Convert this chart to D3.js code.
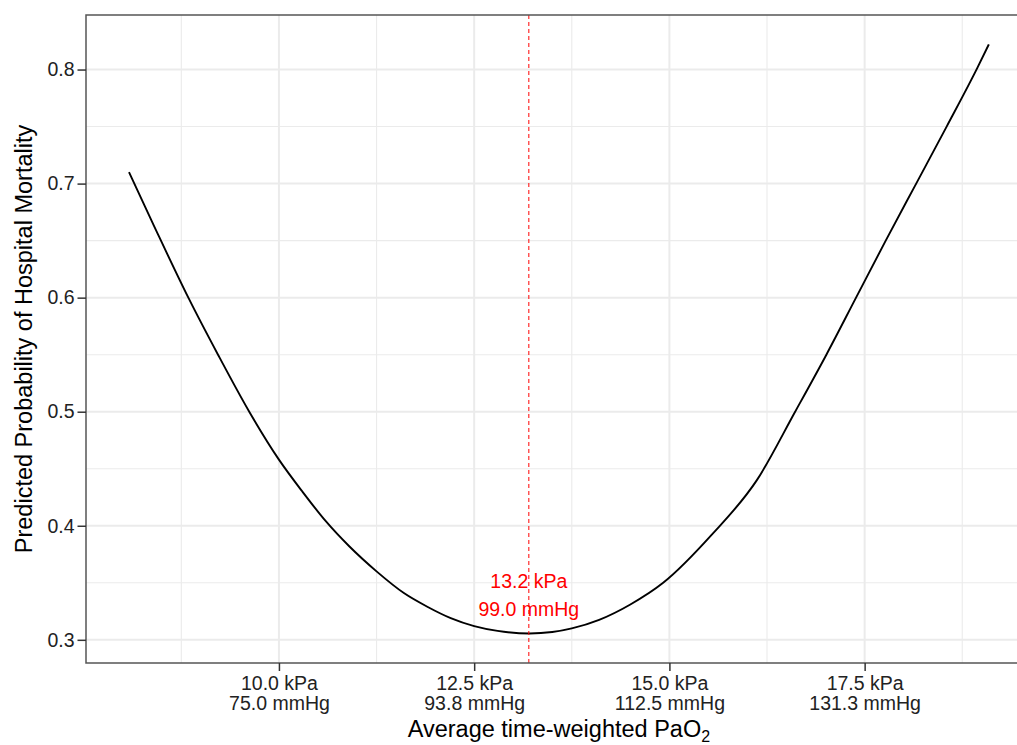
<!DOCTYPE html>
<html>
<head>
<meta charset="utf-8">
<script src="https://cdn.jsdelivr.net/npm/d3@7"></script>
<style>
  html, body { margin: 0; padding: 0; background: #fff; }
  svg { display: block; font-family: "Liberation Sans", Arial, sans-serif; }
</style>
</head>
<body>
<svg id="chart" width="1017" height="745"></svg>
<script>
// ---- data ----
const pao2Kpa = [8.08, 8.40, 8.84, 9.22, 9.62, 10.00, 10.30, 10.60, 10.90, 11.25, 11.60, 11.90, 12.20, 12.50, 12.80, 13.21, 13.50, 13.75, 14.10, 14.50, 14.92, 15.54, 16.12, 16.61, 17.01, 17.39, 17.77, 18.16, 18.55, 18.94, 19.09];
const mortality = [0.710, 0.663, 0.600, 0.550, 0.500, 0.458, 0.430, 0.404, 0.382, 0.360, 0.341, 0.329, 0.319, 0.312, 0.3078, 0.3055, 0.3068, 0.310, 0.3175, 0.331, 0.350, 0.392, 0.440, 0.500, 0.550, 0.600, 0.650, 0.700, 0.750, 0.801, 0.822];

const xTickValues = [10, 12.5, 15, 17.5];
const xTickKpa = ["10.0 kPa", "12.5 kPa", "15.0 kPa", "17.5 kPa"];
const xTickMmHg = ["75.0 mmHg", "93.8 mmHg", "112.5 mmHg", "131.3 mmHg"];
const xMinorValues = [8.75, 11.25, 13.75, 16.25, 18.75];
const yTickValues = [0.3, 0.4, 0.5, 0.6, 0.7, 0.8];
const yMinorValues = [0.35, 0.45, 0.55, 0.65, 0.75];

const optimumKpa = 13.2;
const optimumLabels = ["13.2 kPa", "99.0 mmHg"];
const optimumLabelY = [0.3515, 0.327];

const xTitle = "Average time-weighted PaO";
const yTitle = "Predicted Probability of Hospital Mortality";

// ---- layout ----
const panel = { left: 86, top: 15, right: 1031.8, bottom: 663 };

function expand(ext, f) {
  const d = ext[1] - ext[0];
  return [ext[0] - d * f, ext[1] + d * f];
}

const x = d3.scaleLinear()
  .domain(expand(d3.extent(pao2Kpa), 0.05))
  .range([panel.left, panel.right]);
const y = d3.scaleLinear()
  .domain(expand(d3.extent(mortality), 0.05))
  .range([panel.bottom, panel.top]);

const svg = d3.select("#chart");
const data = pao2Kpa.map((k, i) => ({ k, p: mortality[i] }));

svg.append("defs").append("clipPath").attr("id", "clip")
  .append("rect")
  .attr("x", panel.left).attr("y", panel.top)
  .attr("width", panel.right - panel.left).attr("height", panel.bottom - panel.top);

svg.append("rect")
  .attr("x", panel.left).attr("y", panel.top)
  .attr("width", panel.right - panel.left).attr("height", panel.bottom - panel.top)
  .attr("fill", "#fff");

const grid = svg.append("g").attr("clip-path", "url(#clip)");
grid.selectAll(".xminor").data(xMinorValues).join("line")
  .attr("x1", d => x(d)).attr("x2", d => x(d))
  .attr("y1", panel.top).attr("y2", panel.bottom)
  .attr("stroke", "#EBEBEB").attr("stroke-width", 1.1);
grid.selectAll(".yminor").data(yMinorValues).join("line")
  .attr("y1", d => y(d)).attr("y2", d => y(d))
  .attr("x1", panel.left).attr("x2", panel.right)
  .attr("stroke", "#EBEBEB").attr("stroke-width", 1.1);
grid.selectAll(".xmajor").data(xTickValues).join("line")
  .attr("x1", d => x(d)).attr("x2", d => x(d))
  .attr("y1", panel.top).attr("y2", panel.bottom)
  .attr("stroke", "#EBEBEB").attr("stroke-width", 2);
grid.selectAll(".ymajor").data(yTickValues).join("line")
  .attr("y1", d => y(d)).attr("y2", d => y(d))
  .attr("x1", panel.left).attr("x2", panel.right)
  .attr("stroke", "#EBEBEB").attr("stroke-width", 2);

const plot = svg.append("g").attr("clip-path", "url(#clip)");
plot.append("path")
  .datum(data)
  .attr("fill", "none")
  .attr("stroke", "#000")
  .attr("stroke-width", 1.9)
  .attr("stroke-linejoin", "round")
  .attr("d", d3.line().x(d => x(d.k)).y(d => y(d.p)).curve(d3.curveMonotoneX));

plot.append("line")
  .attr("x1", x(optimumKpa)).attr("x2", x(optimumKpa))
  .attr("y1", panel.top).attr("y2", panel.bottom)
  .attr("stroke", "#FF0000").attr("stroke-width", 1)
  .attr("stroke-dasharray", "4,3");

plot.selectAll(".optlab").data(optimumLabels).join("text")
  .attr("x", x(optimumKpa))
  .attr("y", (d, i) => y(optimumLabelY[i]))
  .attr("dy", "0.35em")
  .attr("text-anchor", "middle")
  .attr("fill", "#FF0000")
  .attr("font-size", 19.5)
  .text(d => d);

svg.append("rect")
  .attr("x", panel.left).attr("y", panel.top)
  .attr("width", panel.right - panel.left).attr("height", panel.bottom - panel.top)
  .attr("fill", "none").attr("stroke", "#555").attr("stroke-width", 1.5);

const yAxis = svg.append("g")
  .attr("transform", `translate(${panel.left},0)`)
  .call(d3.axisLeft(y).tickValues(yTickValues).tickFormat(d3.format(".1f")).tickSizeOuter(0).tickSize(8.5).tickPadding(3));
yAxis.select(".domain").remove();
yAxis.selectAll(".tick line").attr("stroke", "#333").attr("stroke-width", 1.5);
yAxis.selectAll(".tick text").attr("fill", "#222").attr("font-size", 19.5)
  .attr("font-family", "Liberation Sans, Arial, sans-serif");

const xAxis = svg.append("g")
  .attr("transform", `translate(0,${panel.bottom})`)
  .call(d3.axisBottom(x).tickValues(xTickValues).tickFormat("").tickSizeOuter(0).tickSize(8));
xAxis.select(".domain").remove();
xAxis.selectAll(".tick line").attr("stroke", "#333").attr("stroke-width", 1.5);
xAxis.selectAll(".tick").each(function (d) {
  const i = xTickValues.indexOf(d);
  const t = d3.select(this).select("text")
    .attr("fill", "#222").attr("font-size", 19.5)
    .attr("font-family", "Liberation Sans, Arial, sans-serif")
    .attr("y", 0).attr("dy", null);
  t.text(null);
  t.append("tspan").attr("x", 0).attr("y", 27).text(xTickKpa[i]);
  t.append("tspan").attr("x", 0).attr("y", 47).text(xTickMmHg[i]);
});

const xt = svg.append("text")
  .attr("x", (panel.left + panel.right) / 2)
  .attr("y", 737)
  .attr("text-anchor", "middle")
  .attr("font-size", 23.5)
  .attr("fill", "#000");
xt.append("tspan").text(xTitle);
xt.append("tspan").attr("font-size", 16).attr("dy", 5).text("2");

svg.append("text")
  .attr("transform", `translate(32,${(panel.top + panel.bottom) / 2}) rotate(-90)`)
  .attr("text-anchor", "middle")
  .attr("font-size", 23.5)
  .attr("fill", "#000")
  .text(yTitle);
</script>
</body>
</html>
